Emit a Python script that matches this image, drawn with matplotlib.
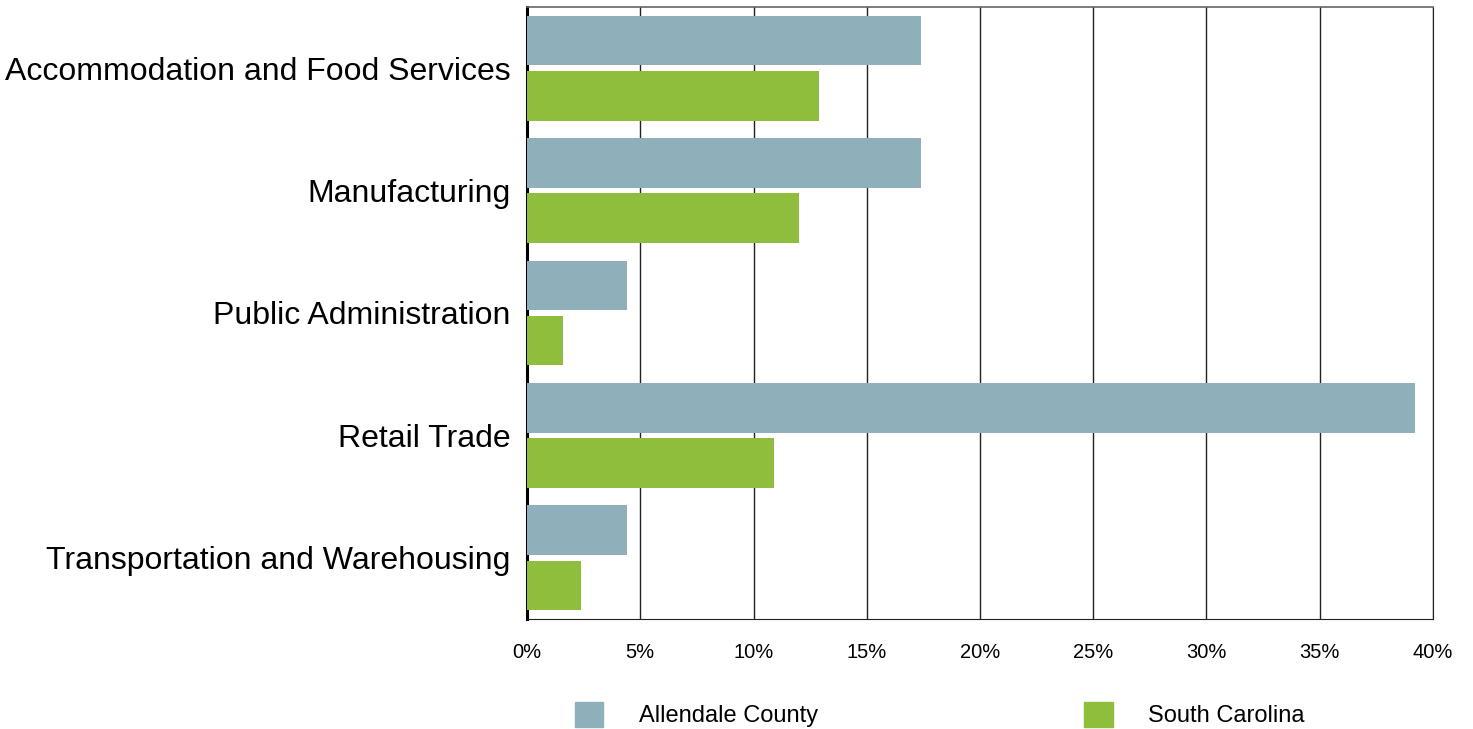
import numpy as np
import matplotlib.pyplot as plt
from matplotlib.patches import Patch

plt.rcParams['font.family'] = ['Liberation Sans', 'DejaVu Sans']

# data
industries = ['Accommodation and Food Services', 'Manufacturing',
              'Public Administration', 'Retail Trade',
              'Transportation and Warehousing']
allendale = [17.4, 17.4, 4.4, 39.2, 4.4]
south_carolina = [12.9, 12.0, 1.6, 10.9, 2.4]
xticks = [0, 5, 10, 15, 20, 25, 30, 35, 40]

c_all = '#8fafba'
c_sc = '#8fbe3d'

fig = plt.figure(figsize=(14.73, 7.29), dpi=100)
ax = fig.add_axes([0.3578, 0.1509, 0.9728 - 0.3578, 0.9904 - 0.1509])

y = np.arange(len(industries))
h = 0.405
ax.barh(y - 0.225, allendale, height=h, color=c_all, zorder=3)
ax.barh(y + 0.225, south_carolina, height=h, color=c_sc, zorder=3)

ax.set_xlim(0, 40)
ax.set_ylim(len(industries) - 0.5, -0.5)
ax.set_xticks(xticks)
ax.set_xticklabels([f'{t}%' for t in xticks], fontsize=14.5)
ax.set_yticks(y)
ax.set_yticklabels(industries, fontsize=23)
ax.tick_params(axis='both', length=0)
ax.tick_params(axis='x', pad=17)
ax.tick_params(axis='y', pad=12)
ax.xaxis.grid(True, color='#222222', lw=1, zorder=1)

ax.spines['left'].set_linewidth(2.2)
ax.spines['left'].set_color('black')
ax.spines['top'].set_color('#666666')
ax.spines['top'].set_linewidth(1.2)
ax.spines['right'].set_color('#222222')
ax.spines['bottom'].set_color('#222222')

handles = [Patch(color=c_all, label='Allendale County'),
           Patch(color=c_sc, label='South Carolina')]
fig.legend(handles=handles, loc='center', bbox_to_anchor=(0.638, 0.02),
           ncol=2, frameon=False, fontsize=17, handlelength=1.2,
           handleheight=1.3, handletextpad=1.5, columnspacing=11.3)

fig.savefig('out.png', dpi=100)
